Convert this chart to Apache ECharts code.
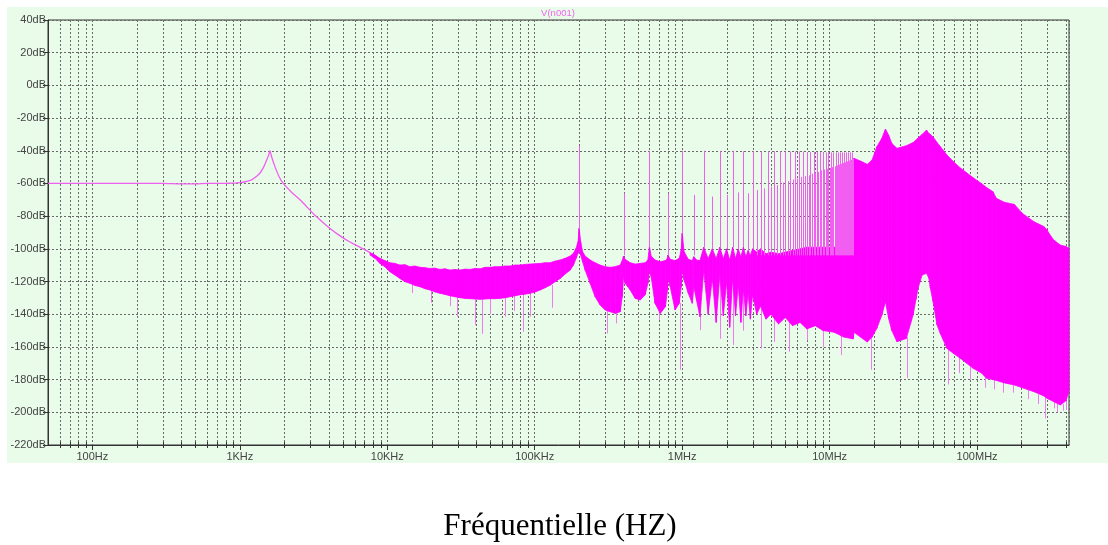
<!DOCTYPE html>
<html>
<head>
<meta charset="utf-8">
<script src="https://cdn.jsdelivr.net/npm/echarts@6/dist/echarts.min.js"></script>
<style>
html, body { margin: 0; padding: 0; background: #fff; }
#chart { width: 1108px; height: 545px; }
</style>
</head>
<body>
<div id="chart"></div>
<script>
// trace below ~8kHz (single line), Hz / dB
const lfFreq = [50, 100, 200, 300, 400, 500, 600, 700, 800, 900, 1000, 1100, 1200, 1300, 1370, 1450, 1520, 1570, 1600,
    1640, 1730, 1850, 1970, 2250, 2560, 2880, 3230, 3900, 4600, 5500, 6870, 7640];
const lfDb = [-60, -60, -60, -60, -60.3, -60.3, -60, -60, -59.9, -59.8, -59.5, -58.8, -57.8, -55.6, -53.6, -50, -45.7, -42.5, -40,
    -43.5, -49.7, -56, -60, -65.5, -70, -74.8, -79.5, -86, -91, -95.5, -100, -102.3];

// noise floor: upper and lower envelope
const bandFreq = [7640, 8250, 8910, 9620, 10400, 11260, 12180, 13170, 14240, 15400, 16660, 18010, 19480, 21070, 22780,
    24630, 26630, 28800, 31140, 33670, 36410, 39370, 42570, 46030, 49780, 53830, 58200, 62940, 68060, 73590, 79580,
    86050, 93050, 100600, 108800, 117600, 127200, 137600, 148800, 160900, 174000, 183200, 190800, 196700, 200000,
    204800, 211000, 219600, 237500, 256800, 277700, 300300, 324700, 351100, 379700, 392000, 400000, 410000, 444000,
    480000, 519000, 561000, 585000, 600000, 616000, 654000, 710000, 769000, 795000, 800000, 830000, 895000, 955000,
    985000, 1000000, 1030000, 1100000, 1170000, 1200000, 1250000, 1320000,
    1.4e6, 1.5e6, 1.6e6, 1.7e6, 1.8e6, 1.9e6, 2.0e6, 2.1e6, 2.2e6, 2.3e6, 2.4e6, 2.5e6, 2.6e6, 2.7e6, 2.8e6, 2.9e6, 3.0e6,
    3.2e6, 3.4e6, 3.7e6, 4.0e6, 4.5e6, 5.0e6, 5.6e6, 6.3e6, 7.0e6, 8.0e6, 9.0e6, 10.7e6, 12.5e6, 14.2e6, 14.5e6,
    14.6e6, 16.2e6, 18.0e6, 19.4e6, 20.9e6, 22.6e6, 23.9e6, 25.1e6, 26.4e6, 28.6e6, 33.1e6, 36.8e6, 38.5e6, 39.7e6,
    42.4e6, 45.4e6, 47.1e6, 48.2e6, 50.3e6, 53.5e6, 56.4e6, 62.5e6, 69.2e6, 77e6, 85e6, 94e6, 107e6, 116e6, 128e6,
    135e6, 153e6, 179e6, 203e6, 243e6, 284e6, 299e6, 307e6, 331e6, 367e6, 400e6, 420e6];
const bandTop = [-102.3, -103.8, -105.8, -107.2, -108.5, -108.9, -109.9, -109.7, -110.9, -110.5, -111.3, -111.5, -112, -111.8, -112.6,
    -112.2, -113, -112.6, -113, -112.4, -112.6, -112, -112.2, -111.3, -111.3, -110.9, -110.9, -110.5, -110.5, -109.9, -109.9,
    -109.5, -109.3, -109.1, -108.9, -108.5, -108.5, -107.5, -106.8, -105.8, -104.4, -102.7, -99.6, -95.6, -87.4,
    -95.6, -101.7, -104.4, -106.8, -108.5, -109.9, -110.9, -111.3, -110.9, -109.9, -107.2, -104.4, -106.4, -108.5,
    -109.3, -108.9, -108.5, -106.8, -98.7, -104.4, -106.8, -107.9, -107.2, -105.8, -103.8, -106.4, -107.2, -105.8,
    -100.7, -90.4, -101.7, -106.4, -107.2, -104.8, -106.8, -107.2,
    -99, -106, -100, -106, -99, -106, -100, -107, -99, -106, -100, -105, -99, -105, -101, -104, -100,
    -102, -100, -103, -102, -103, -102, -101, -100, -99, -99, -99, -99, -98, -97, -60,
    -44.6, -46.3, -48.3, -45.6, -37.5, -32.4, -26.7, -30.4, -35.5, -38.5, -36.9, -35, -33.4, -32.2,
    -30, -27.3, -29.5, -30, -31.5, -35, -37.5, -42.6, -46.7, -50.5, -53.5, -56.5, -60, -62.5, -65,
    -69.1, -71.5, -72.8, -78.3, -83.4, -86.4, -88.5, -90.5, -94.6, -97.7, -98.5, -99.7];
const bandBot = [-103.8, -105.8, -108.9, -110.9, -114, -116, -118.1, -120.1, -121.1, -122.4, -123.2, -124.4, -125.2, -126.4, -127.2,
    -127.9, -128.7, -129.3, -129.9, -130.3, -130.5, -130.7, -130.9, -130.7, -130.5, -130.5, -130.3, -129.9, -129.3, -128.7, -128.1,
    -127.7, -127.2, -126.4, -125.2, -123.8, -122.2, -120.1, -118.1, -115.4, -113, -109.9, -105.8, -102.7, -100.7,
    -103.8, -107.8, -113, -121.1, -129.3, -134.4, -137.4, -138.5, -139.5, -138.5, -129.3, -117, -121.1, -125.2,
    -130.3, -131.3, -128.1, -121.1, -113, -117, -133.3, -139.5, -135.4, -125.2, -118.1, -123.2, -137.4, -133.3,
    -123.2, -113, -119.1, -127.2, -133.3, -123.2, -131.3, -141.5,
    -113, -140, -118, -145, -116, -141, -120, -148, -118, -141, -122, -145, -124, -141, -127, -143, -128,
    -140, -135, -143, -140, -146, -142, -147, -145, -149, -147, -150, -151, -154, -155, -155,
    -151, -154, -157, -154, -148.6, -140.5, -132.3, -142.5, -150, -156.8, -154.8, -140.5, -131, -124.2,
    -116, -115, -118, -124, -132.3, -146.6, -152, -160.9, -164, -167, -170, -173.1, -176, -179.2, -180,
    -180.5, -182, -183.3, -185, -187.4, -190, -191.5, -192, -193.5, -195.5, -193, -187.4];

// harmonic lines (200kHz fundamental): frequency, top, bottom
const spikeFreq = [0.2e6, 0.4e6, 0.6e6, 0.8e6, 1.0e6, 1.2e6, 1.4e6, 1.6e6, 1.8e6, 2.0e6, 2.2e6, 2.4e6, 2.6e6, 2.8e6,
    3.0e6, 3.2e6, 3.4e6, 3.6e6, 3.8e6, 4.0e6, 4.2e6, 4.4e6, 4.6e6, 4.8e6, 5.0e6, 5.2e6, 5.4e6, 5.6e6, 5.8e6, 6.0e6,
    6.2e6, 6.4e6, 6.6e6, 6.8e6, 7.0e6, 7.2e6, 7.4e6, 7.6e6, 7.8e6, 8.0e6, 8.2e6, 8.4e6, 8.6e6, 8.8e6, 9.0e6, 9.2e6,
    9.4e6, 9.6e6, 9.8e6, 10.0e6, 10.2e6, 10.4e6, 10.6e6, 10.8e6, 11.0e6, 11.2e6, 11.4e6, 11.6e6, 11.8e6, 12.0e6,
    12.2e6, 12.4e6, 12.6e6, 12.8e6, 13.0e6, 13.2e6, 13.4e6, 13.6e6, 13.8e6, 14.0e6, 14.2e6, 14.4e6];
const spikeTop = [-37, -66, -40, -66, -40, -67, -40, -68, -40, -67, -40, -65.5, -40.3, -66,
    -40.3, -64, -40.3, -63, -40.3, -62, -40.3, -61, -40.3, -59.5, -40.5, -58.5, -40.5, -57.5, -40.5, -57,
    -40.5, -56, -40.5, -55.5, -40.8, -55, -40.8, -54, -40.8, -53.5, -40.8, -53, -40.8, -52, -41, -51.5,
    -41, -51, -41, -50.5, -41, -50, -41, -49.5, -41, -49, -41, -48.5, -41, -48,
    -41, -47.5, -41, -47, -41, -46.5, -41, -46, -41, -45.5, -41, -45];
const spikeBase = [-88, -104, -99, -104, -91, -104, -99, -100, -99, -100, -99, -100, -99, -101,
    -100, -104, -104, -104, -104, -104, -104, -104, -104, -104, -104, -104, -104, -104, -104, -104,
    -104, -104, -104, -104, -104, -104, -104, -104, -104, -104, -104, -104, -104, -104, -104, -104,
    -104, -104, -104, -104, -104, -104, -104, -104, -104, -104, -104, -104, -104, -104,
    -104, -104, -104, -104, -104, -104, -104, -104, -104, -104, -104, -104];

// thin drops under the floor
const dipFreq = [14600, 19900, 26600, 29600, 39400, 43800, 49800, 63000, 72000, 83800, 93000, 130000, 308000, 357000,
    692000, 971000, 1.32e6, 1.8e6, 2.2e6, 2.6e6, 3.4e6, 4.2e6, 5.3e6, 7.0e6, 9.0e6, 11.9e6, 19e6, 33.6e6, 63e6, 75e6,
    90e6, 113e6, 130e6, 150e6, 176e6, 220e6, 260e6, 290e6, 331e6, 350e6, 380e6, 398e6];
const dipLow = [-127, -133, -135, -141.5, -146.6, -152, -140, -141.5, -138, -150.7, -141.5, -136, -151.7, -145.6,
    -143.5, -174, -149.7, -155, -158.8, -150, -161, -157, -163, -156, -160, -165, -174, -179, -183, -176,
    -180, -185, -186, -188, -188, -192, -195, -203.7, -197.6, -200, -199, -198.6];
const dipHigh = [-121, -125, -128, -129, -130, -130, -130, -129, -128, -127, -127, -122, -137, -139,
    -138, -133, -141, -116, -118, -124, -135, -140, -142, -149, -150, -151, -154, -154, -160, -166,
    -171, -176, -180, -181, -183, -186, -189, -190, -193, -194, -195, -193];

const xTicks = [100, 1e3, 1e4, 1e5, 1e6, 1e7, 1e8];
const xTickLabels = ['100Hz', '1KHz', '10KHz', '100KHz', '1MHz', '10MHz', '100MHz'];

// dotted grid lines between decades (2..9 x 10^n)
const minorGrid = [];
for (let d = 10; d <= 1e8; d *= 10) {
    for (let k = 2; k <= 9; k++) {
        if (k * d > 50 && k * d < 4.2e8) minorGrid.push(k * d);
    }
}

const magenta = '#ff00ff';
const gridColor = '#6a6a6a';

let chart = echarts.init(document.getElementById('chart'));

function vLine(api, f, y1, y2, color) {
    const a = api.coord([f, y1]);
    const b = api.coord([f, y2]);
    const x = Math.round(a[0]) + 0.5;
    return { type: 'line', shape: { x1: x, y1: a[1], x2: x, y2: b[1] }, style: { stroke: color, lineWidth: 1 } };
}

// one quad per band segment: [f0, top0, bot0, f1, top1, bot1]
const bandSegs = [];
for (let i = 0; i < bandFreq.length - 1; i++) {
    bandSegs.push([bandFreq[i], bandTop[i], bandBot[i], bandFreq[i + 1], bandTop[i + 1], bandBot[i + 1]]);
}

chart.setOption({
    animation: false,
    backgroundColor: '#fff',
    grid: { left: 48, right: 39, top: 20, bottom: 100, show: true, borderColor: '#333', borderWidth: 1 },
    graphic: [
        { type: 'rect', silent: true, z: -100, shape: { x: 7, y: 7, width: 1101, height: 456 }, style: { fill: '#e9fbe9' } },
        { type: 'text', silent: true, x: 558, y: 13, style: { text: 'V(n001)', fill: '#f064f0', font: '9.5px "Liberation Sans", Arial', align: 'center', verticalAlign: 'middle' } },
        { type: 'text', silent: true, x: 560, y: 527, style: { text: 'Fréquentielle (HZ)', fill: '#000', font: '31px "Liberation Serif", "Times New Roman", serif', align: 'center', verticalAlign: 'middle' } }
    ],
    xAxis: {
        type: 'log', logBase: 10, min: 50, max: 4.2e8, splitNumber: 10,
        axisLine: { onZero: false, lineStyle: { color: '#333' } },
        axisTick: { length: 5, lineStyle: { color: '#333' } },
        axisLabel: {
            color: '#444', fontSize: 11, fontFamily: '"Liberation Sans", Arial', margin: 6,
            showMinLabel: false, showMaxLabel: false,
            formatter: v => {
                const i = xTicks.findIndex(t => Math.abs(t - v) / t < 1e-6);
                return i < 0 ? '' : xTickLabels[i];
            }
        },
        splitLine: { show: true, lineStyle: { color: gridColor, width: 1, type: [2, 2] } }
    },
    yAxis: {
        type: 'value', min: -220, max: 40, interval: 20,
        axisLine: { show: true, onZero: false, lineStyle: { color: '#333' } },
        axisTick: { show: true, length: 5, lineStyle: { color: '#333' } },
        axisLabel: { color: '#444', fontSize: 11, fontFamily: '"Liberation Sans", Arial', margin: 2, formatter: v => v + 'dB' },
        splitLine: { show: true, lineStyle: { color: gridColor, width: 1, type: [2, 2] } }
    },
    series: [
        {
            // minor grid + ticks on the bottom axis
            type: 'custom', silent: true, z: 1,
            data: minorGrid.map(v => [v, -220]),
            renderItem: (params, api) => {
                const cs = params.coordSys;
                const x = Math.round(api.coord([api.value(0), 0])[0]) + 0.5;
                return {
                    type: 'group', children: [
                        { type: 'line', shape: { x1: x, y1: cs.y, x2: x, y2: cs.y + cs.height }, style: { stroke: gridColor, lineWidth: 1, lineDash: [2, 2] } },
                        { type: 'line', shape: { x1: x, y1: cs.y + cs.height - 3, x2: x, y2: cs.y + cs.height + 3 }, style: { stroke: '#333', lineWidth: 1 } }
                    ]
                };
            }
        },
        {
            type: 'line', silent: true, symbol: 'none', z: 3, smooth: 0.3,
            data: lfFreq.map((f, i) => [f, lfDb[i]]),
            lineStyle: { color: '#f060f0', width: 1.3 }
        },
        {
            type: 'custom', silent: true, z: 3,
            data: dipFreq.map((f, i) => [f, dipLow[i], dipHigh[i]]),
            renderItem: (params, api) => vLine(api, api.value(0), api.value(1), api.value(2), '#f27af2')
        },
        {
            // noise floor band
            type: 'custom', silent: true, z: 4,
            data: bandSegs,
            encode: { x: [0, 3], y: [1, 2, 4, 5] },
            renderItem: (params, api) => {
                const p = [
                    api.coord([api.value(0), api.value(1)]),
                    api.coord([api.value(3), api.value(4)]),
                    api.coord([api.value(3), api.value(5)]),
                    api.coord([api.value(0), api.value(2)])
                ];
                return { type: 'polygon', shape: { points: p }, style: { fill: magenta, stroke: magenta, lineWidth: 0.8 } };
            }
        },
        {
            type: 'custom', silent: true, z: 5,
            data: spikeFreq.map((f, i) => [f, spikeTop[i], spikeBase[i]]),
            renderItem: (params, api) => vLine(api, api.value(0), api.value(1), api.value(2), '#f25ef2')
        }
    ]
});
</script>
</body>
</html>
